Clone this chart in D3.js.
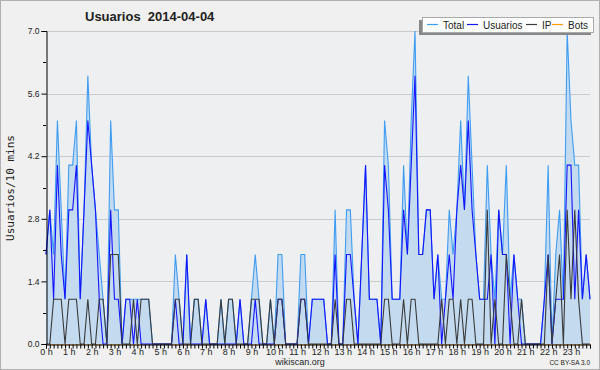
<!DOCTYPE html>
<html>
<head>
<meta charset="utf-8">
<script src="https://cdn.jsdelivr.net/npm/d3@7/dist/d3.min.js"></script>
<style>
  body { margin: 0; background: #f0f0f0; }
  svg { display: block; }
  text { font-family: "Liberation Sans", Arial, sans-serif; fill: #222; }
</style>
</head>
<body>
<div id="chart"></div>
<script>
// 10-minute slots over the day, 144 values per series
const hourLabels = ["0 h","1 h","2 h","3 h","4 h","5 h","6 h","7 h","8 h","9 h","10 h","11 h",
  "12 h","13 h","14 h","15 h","16 h","17 h","18 h","19 h","20 h","21 h","22 h","23 h"];

const total = [
  2,3,2,5,3,1,4,4,5,1,3,6,
  4,3,2,1,0,5,3,3,0,1,1,1,
  1,1,1,1,0,0,0,0,0,0,2,1,
  0,2,0,1,1,0,1,0,0,0,1,0,
  1,1,0,1,0,0,1,2,1,0,0,1,
  0,2,2,0,0,0,0,2,2,0,1,1,
  1,1,0,0,3,0,0,3,3,1,0,2,
  4,1,1,1,0,5,4,1,1,1,4,2,
  5,7,2,2,3,3,1,2,1,1,3,2,
  3,5,3,6,4,2,1,1,4,2,1,3,
  2,4,1,2,1,1,0,0,0,0,0,1,
  4,0,2,3,1,7,5,4,4,1,2,1
];
const usuarios = [
  2,3,1,4,2,1,3,3,4,1,3,5,
  4,3,1,0,0,3,1,1,0,1,1,0,
  1,0,0,0,0,0,0,0,0,0,1,0,
  0,2,0,0,0,0,1,0,0,0,0,0,
  0,0,0,1,0,0,0,1,0,0,0,0,
  0,1,1,0,0,0,0,1,1,0,1,1,
  1,1,0,0,2,0,0,2,2,1,0,2,
  4,1,1,1,0,4,3,1,1,1,3,2,
  4,6,2,2,3,3,1,2,0,1,2,1,
  3,4,3,5,3,2,1,1,1,2,0,3,
  2,2,0,2,1,0,0,0,0,0,0,1,
  2,0,1,1,1,4,4,1,3,1,2,1
];
const ip = [
  0,0,1,1,1,0,1,1,1,0,0,1,
  0,0,1,1,0,2,2,2,0,0,0,1,
  0,1,1,1,0,0,0,0,0,0,1,1,
  0,0,0,1,1,0,0,0,0,0,1,0,
  1,1,0,0,0,0,1,1,1,0,0,1,
  0,1,1,0,0,0,0,1,1,0,0,0,
  0,0,0,0,1,0,0,1,1,0,0,0,
  0,0,0,0,0,1,1,0,0,0,1,0,
  1,1,0,0,0,0,0,0,1,0,1,1,
  0,1,0,1,1,0,0,0,3,0,1,0,
  0,2,1,0,0,1,0,0,0,0,0,0,
  2,0,1,2,0,3,1,3,1,0,0,0
];
const bots = [
  0,0,0,0,0,0,0,0,0,0,0,0,
  0,0,0,0,0,0,0,0,0,0,0,0,
  0,0,0,0,0,0,0,0,0,0,0,0,
  0,0,0,0,0,0,0,0,0,0,0,0,
  0,0,0,0,0,0,0,0,0,0,0,0,
  0,0,0,0,0,0,0,0,0,0,0,0,
  0,0,0,0,0,0,0,0,0,0,0,0,
  0,0,0,0,0,0,0,0,0,0,0,0,
  0,0,0,0,0,0,0,0,0,0,0,0,
  0,0,0,0,0,0,0,0,0,0,0,0,
  0,0,0,0,0,0,0,0,0,0,0,0,
  0,0,0,0,0,0,0,0,0,0,0,0
];
const yTicks = [0, 1.4, 2.8, 4.2, 5.6, 7.0];

const width = 600;
const height = 370;
const plotLeft = 46, plotRight = 590, plotTop = 31, plotBottom = 344;

const svg = d3.select("#chart")
  .append("svg")
  .attr("width", width)
  .attr("height", height);

svg.append("rect")
  .attr("x", 0.5).attr("y", 0.5)
  .attr("width", width - 1).attr("height", height - 1)
  .attr("fill", "#f0f0f0")
  .attr("stroke", "#b0b0b0");

svg.append("rect")
  .attr("x", plotLeft).attr("y", plotTop)
  .attr("width", plotRight - plotLeft).attr("height", plotBottom - plotTop)
  .attr("fill", "#eeeff1");

const x = d3.scaleLinear().domain([0, total.length - 1]).range([plotLeft, plotRight]);
const y = d3.scaleLinear().domain([0, 7]).range([plotBottom, plotTop]);

// grid
svg.append("g")
  .selectAll("line")
  .data(yTicks.slice(1))
  .enter()
  .append("line")
  .attr("x1", plotLeft).attr("x2", plotRight)
  .attr("y1", d => Math.round(y(d)) + 0.5)
  .attr("y2", d => Math.round(y(d)) + 0.5)
  .attr("stroke", "#cbcbcb");

const line = d3.line().x((d, i) => x(i)).y(d => y(d));
const area = d3.area().x((d, i) => x(i)).y0(y(0)).y1(d => y(d));

const series = [
  { name: "Total", values: total, color: "#3d9df2" },
  { name: "Usuarios", values: usuarios, color: "#1414ff" },
  { name: "IP", values: ip, color: "#3a3a3a" },
  { name: "Bots", values: bots, color: "#ff9a00" }
];

// bots stays at zero, drawn first so it sits under everything
svg.append("path")
  .datum(bots)
  .attr("d", line)
  .attr("fill", "none")
  .attr("stroke", "#ff9a00");

svg.append("path")
  .datum(total)
  .attr("d", area)
  .attr("fill", "#c4dbef");

series.slice(0, 3).forEach(s => {
  svg.append("path")
    .datum(s.values)
    .attr("d", line)
    .attr("fill", "none")
    .attr("stroke", s.color)
    .attr("stroke-width", 1.1);
});

// y axis
const yAxis = svg.append("g")
  .attr("transform", `translate(${plotLeft + 0.5},0)`)
  .call(d3.axisLeft(y).tickValues(yTicks).tickFormat(d3.format(".1f")).tickSize(5).tickPadding(2));
yAxis.selectAll("text").style("font-size", "8.5px").attr("fill", "#333");

svg.append("g")
  .selectAll("line")
  .data([0.7, 2.1, 3.5, 4.9, 6.3])
  .enter()
  .append("line")
  .attr("x1", plotLeft - 3).attr("x2", plotLeft)
  .attr("y1", d => Math.round(y(d)) + 0.5)
  .attr("y2", d => Math.round(y(d)) + 0.5)
  .attr("stroke", "#000");

// x axis: a tick every 10 minutes, a label every hour
const xAxis = svg.append("g")
  .attr("transform", `translate(0,${plotBottom + 0.5})`)
  .call(d3.axisBottom(x).tickValues(total.map((d, i) => i)).tickFormat(i => i % 6 === 0 ? hourLabels[i / 6] : "").tickSize(4).tickPadding(0));
xAxis.selectAll("text").style("font-size", "9px").attr("fill", "#333");
xAxis.selectAll(".domain, .tick line").attr("stroke", "#000");
yAxis.selectAll(".domain, .tick line").attr("stroke", "#000");

// title
svg.append("text")
  .attr("x", 85).attr("y", 21)
  .attr("xml:space", "preserve")
  .style("white-space", "pre")
  .style("font-size", "13px")
  .style("font-weight", "bold")
  .text("Usuarios  2014-04-04");

// y label
svg.append("text")
  .attr("transform", "translate(14,188) rotate(-90)")
  .attr("text-anchor", "middle")
  .style("font-family", "'DejaVu Sans Mono', monospace")
  .style("font-size", "11px")
  .text("Usuarios/10 mins");

// legend
svg.append("rect")
  .attr("x", 419).attr("y", 20)
  .attr("width", 172).attr("height", 15)
  .attr("fill", "#888");
svg.append("rect")
  .attr("x", 422.5).attr("y", 17.5)
  .attr("width", 171).attr("height", 15)
  .attr("fill", "#fff")
  .attr("stroke", "#aaa");

const legendX = [427, 467, 526, 552];
const legend = svg.append("g")
  .selectAll("g")
  .data(series)
  .enter()
  .append("g")
  .attr("transform", (d, i) => `translate(${legendX[i]},0)`);
legend.append("line")
  .attr("x1", 0).attr("x2", 11)
  .attr("y1", 24.5).attr("y2", 24.5)
  .attr("stroke", d => d.color)
  .attr("stroke-width", 1.2);
legend.append("text")
  .attr("x", 16).attr("y", 28.5)
  .style("font-size", "10px")
  .text(d => d.name);

// footer
svg.append("text")
  .attr("x", 300).attr("y", 365)
  .attr("text-anchor", "middle")
  .style("font-size", "9px")
  .attr("fill", "#333")
  .text("wikiscan.org");
svg.append("text")
  .attr("x", 590).attr("y", 365)
  .attr("text-anchor", "end")
  .style("font-size", "6.5px")
  .attr("fill", "#555")
  .text("CC BY-SA 3.0");
</script>
</body>
</html>
